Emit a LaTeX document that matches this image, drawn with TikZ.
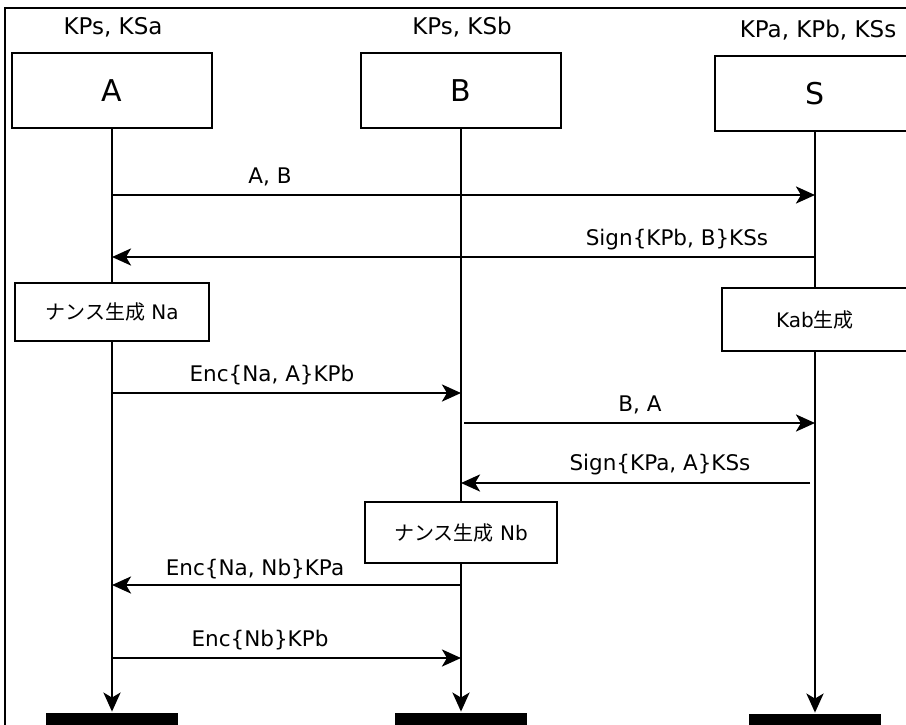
\documentclass[tikz,border=0pt]{standalone}
\usepackage{fontspec}
\setmainfont{DejaVu Sans}
\newfontfamily\cjk{Noto Sans CJK JP}
\usetikzlibrary{arrows.meta}
\begin{document}
\begin{tikzpicture}[x=1pt,y=-1pt,
  line width=2.8pt,
  actor/.style={draw, fill=white, minimum width=200pt, minimum height=75pt, inner sep=0pt, font=\fontsize{30}{32}\selectfont},
  proc/.style={draw, fill=white, inner sep=0pt, font=\fontsize{20}{22}\selectfont},
  hdr/.style={font=\fontsize{23}{25}\selectfont, inner sep=0pt},
  lbl/.style={font=\fontsize{21.5}{23}\selectfont, inner sep=0pt},
  msg/.style={-{Stealth[length=19pt,width=17pt,inset=5pt]}},
  life/.style={-{Stealth[length=19pt,width=17pt,inset=5pt]}},
  endbar/.style={fill=black, draw=none, inner sep=0pt, minimum width=132pt, minimum height=16pt}
]
\useasboundingbox (0,0) rectangle (906,724);
\clip (0,0) rectangle (906,724);
\fill[white] (0,0) rectangle (906,724);
% frame
\draw[line width=2.4pt] (5,740) -- (5,8) -- (920,8);

% headers
\node[hdr] (hA) at (113,27) {KPs, KSa};
\node[hdr] (hB) at (462,27) {KPs, KSb};
\node[hdr] (hS) at (818,30) {KPa, KPb, KSs};

% actors
\node[actor] (A) at (112,90.5) {A};
\node[actor] (B) at (461,90.5) {B};
\node[actor] (S) at (815,93.5) {S};

% process boxes
\node[proc, minimum width=194pt, minimum height=58pt] (na) at (112,312) {{\cjk ナンス生成} Na};
\node[proc, minimum width=186pt, minimum height=63pt] (kab) at (815,319.5) {Kab{\cjk 生成}};
\node[proc, minimum width=192pt, minimum height=61pt] (nb) at (461,532.5) {{\cjk ナンス生成} Nb};

% end bars
\node[endbar] (eA) at (112,721) {};
\node[endbar] (eB) at (461,721) {};
\node[endbar] (eS) at (815,722) {};

% lifelines
\draw (A.south) -- (na.north);
\draw[life] (na.south) -- (eA.north);
\draw (B.south) -- (nb.north);
\draw[life] (nb.south) -- (eB.north);
\draw (S.south) -- (kab.north);
\draw[life] (kab.south) -- (eS.north);

% message points on lifelines
\coordinate (a1) at (112,195); \coordinate (s1) at (815,195);
\coordinate (s2) at (815,257); \coordinate (a2) at (112,257);
\coordinate (a3) at (112,393); \coordinate (b3) at (461,393);
\coordinate (b4) at (464,423); \coordinate (s4) at (815,423);
\coordinate (s5) at (810,483); \coordinate (b5) at (461,483);
\coordinate (b6) at (461,585); \coordinate (a6) at (112,585);
\coordinate (a7) at (112,658); \coordinate (b7) at (461,658);

\draw[msg] (a1) -- (s1);
\draw[msg] (s2) -- (a2);
\draw[msg] (a3) -- (b3);
\draw[msg] (b4) -- (s4);
\draw[msg] (s5) -- (b5);
\draw[msg] (b6) -- (a6);
\draw[msg] (a7) -- (b7);

% labels
\node[lbl] (l1) at (270,177) {A, B};
\node[lbl] (l2) at (677,240) {Sign\{KPb, B\}KSs};
\node[lbl] (l3) at (272,375) {Enc\{Na, A\}KPb};
\node[lbl] (l4) at (640,405) {B, A};
\node[lbl] (l5) at (660,465) {Sign\{KPa, A\}KSs};
\node[lbl] (l6) at (255,569) {Enc\{Na, Nb\}KPa};
\node[lbl] (l7) at (260,640) {Enc\{Nb\}KPb};
\end{tikzpicture}
\end{document}
